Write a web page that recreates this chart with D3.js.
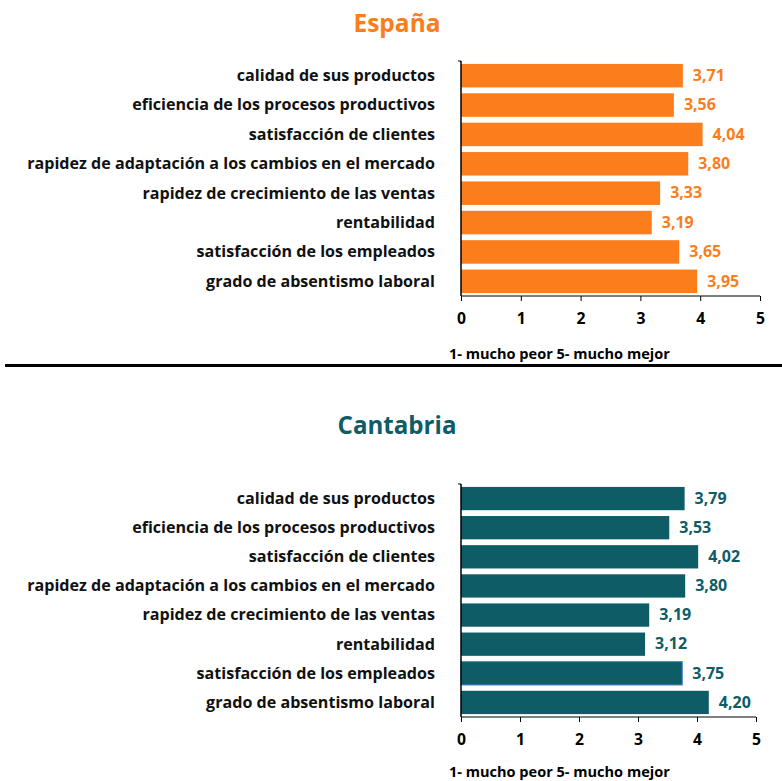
<!DOCTYPE html>
<html><head><meta charset="utf-8">
<script src="https://cdn.jsdelivr.net/npm/d3@7/dist/d3.min.js"></script>
<style>body{margin:0;background:#fff}svg{display:block}text{font-family:"Open Sans",Lato,sans-serif;font-weight:bold}</style>
</head><body>
<script>
const categories = ["calidad de sus productos","eficiencia de los procesos productivos","satisfacción de clientes","rapidez de adaptación a los cambios en el mercado","rapidez de crecimiento de las ventas","rentabilidad","satisfacción de los empleados","grado de absentismo laboral"];
const espanaValues = [3.71,3.56,4.04,3.80,3.33,3.19,3.65,3.95];
const cantabriaValues = [3.79,3.53,4.02,3.80,3.19,3.12,3.75,4.20];
const tickValues = [0,1,2,3,4,5];
const axisTitle = "1- mucho peor 5- mucho mejor";

const W=782,H=781;
const svg=d3.select("body").append("svg").attr("width",W).attr("height",H);

// font size so that a string renders at a target width
function fitSize(str,target){
  const t=svg.append("text").attr("font-size",100).text(str);
  const w=t.node().getComputedTextLength(); t.remove();
  return 100*target/w;
}
const catSize=fitSize(categories[3],408);
const valSize=fitSize("3,71",32);
const axTitleSize=fitSize(axisTitle,221);
const tickSize=fitSize("0",9)*1;
const fmt=d=>d3.format(".2f")(d).replace(".",",");

function panel(cfg){
  const g=svg.append("g");
  const x=d3.scaleLinear().domain([0,5]).range([cfg.x0,cfg.x1]);
  const y=d3.scaleBand().domain(categories).range([cfg.top,cfg.bottom]).paddingInner(0.2).paddingOuter(0.1);
  g.append("text").attr("x",397).attr("y",cfg.titleY).attr("text-anchor","middle")
    .attr("font-size",fitSize(cfg.title,cfg.titleW)).attr("fill",cfg.color).text(cfg.title);
  g.selectAll("rect.bar").data(cfg.values).join("rect").attr("class","bar")
    .attr("x",x(0)).attr("y",(d,i)=>y(categories[i])).attr("width",d=>x(d)-x(0))
    .attr("height",y.bandwidth()).attr("fill",cfg.color)
    .attr("stroke",(d,i)=>cfg.outline&&i===cfg.outline.index?cfg.outline.color:"none")
    .attr("stroke-width",1);
  g.selectAll("text.val").data(cfg.values).join("text").attr("class","val")
    .attr("x",d=>x(d)+10).attr("y",(d,i)=>y(categories[i])+y.bandwidth()/2+1)
    .attr("dominant-baseline","middle").attr("font-size",valSize).attr("fill",cfg.color)
    .text(fmt);
  g.selectAll("text.cat").data(categories).join("text").attr("class","cat")
    .attr("x",435).attr("y",d=>y(d)+y.bandwidth()/2+1).attr("text-anchor","end")
    .attr("dominant-baseline","middle").attr("font-size",catSize).attr("fill","#111").text(d=>d);
  g.append("line").attr("x1",x(0)).attr("x2",x(0)).attr("y1",cfg.top).attr("y2",cfg.bottom).attr("stroke","#000").attr("stroke-width",1.5);
  g.append("line").attr("x1",x(0)-3).attr("x2",x(0)).attr("y1",cfg.top).attr("y2",cfg.top).attr("stroke","#000");
  const ax=d3.axisBottom(x).tickValues(tickValues).tickSize(5).tickFormat(d3.format("d"));
  const axg=g.append("g").attr("transform",`translate(0,${cfg.bottom})`).call(ax);
  axg.select(".domain").attr("stroke","#000").attr("stroke-width",1.2).attr("d",`M${x(0)},0H${x(5)}`);
  axg.selectAll(".tick line").attr("stroke","#000");
  axg.selectAll(".tick text").attr("font-size",tickSize).attr("fill","#000")
    .attr("font-family","'Open Sans',sans-serif").attr("font-weight","bold").attr("y",0).attr("dy",cfg.tickDy);
  g.append("text").attr("x",449).attr("y",cfg.axisTitleY).attr("font-size",axTitleSize).attr("fill","#000").text(axisTitle);
}

panel({title:"España",titleW:87,color:"#FB7D1B",values:espanaValues,x0:461,x1:760,top:61,bottom:296,titleY:32,axisTitleY:359,tickDy:28});
svg.append("line").attr("x1",5).attr("x2",782).attr("y1",365.5).attr("y2",365.5).attr("stroke","#000").attr("stroke-width",3);
panel({title:"Cantabria",titleW:119,color:"#0E5C66",values:cantabriaValues,x0:461,x1:756,top:484,bottom:717,titleY:434,axisTitleY:777,tickDy:28,outline:{index:6,color:"#3F7FCF"}});
</script>
</body></html>
